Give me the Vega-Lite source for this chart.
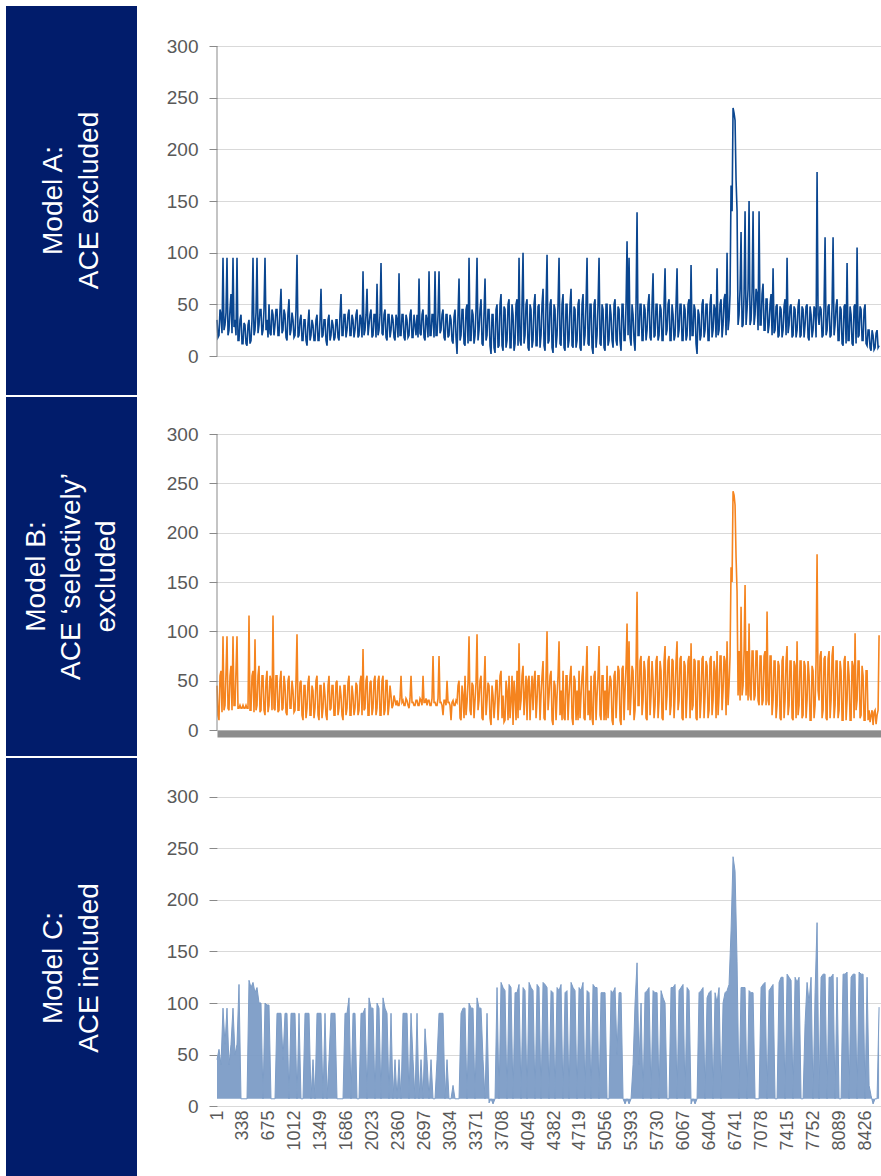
{
  "$schema": "https://vega.github.io/schema/vega-lite/v6.json",
  "padding": {"left": 6, "top": 6, "right": 0, "bottom": 0},
  "background": "white",
  "config": {
    "font": "Liberation Sans",
    "view": {"stroke": null},
    "axis": {"labelFont": "Liberation Sans", "labelFontSize": 19, "labelColor": "#595959", "gridColor": "#d9d9d9", "gridWidth": 1, "domainColor": "#898989", "tickColor": "#898989"}
  },
  "datasets": {
    "s": [
{"x":1,"a":35,"b":45,"c":45},{"x":27,"a":20,"b":10,"c":55},{"x":53,"a":40,"b":60,"c":40},{"x":79,"a":95,"b":95,"c":95},{"x":105,"a":30,"b":25,"c":60},{"x":131,"a":95,"b":95,"c":95},{"x":157,"a":25,"b":20,"c":40},{"x":183,"a":60,"b":65,"c":60},{"x":209,"a":95,"b":95,"c":95},{"x":235,"a":35,"b":25,"c":50},
{"x":261,"a":95,"b":95,"c":60},{"x":287,"a":15,"b":22,"c":118},{"x":313,"a":40,"b":22,"c":7},{"x":339,"a":12,"b":25,"c":7},{"x":365,"a":30,"b":22,"c":7},{"x":391,"a":10,"b":22,"c":7},{"x":417,"a":35,"b":116,"c":122},{"x":443,"a":15,"b":20,"c":115},{"x":469,"a":95,"b":60,"c":120},{"x":495,"a":25,"b":92,"c":110},
{"x":521,"a":95,"b":25,"c":115},{"x":547,"a":30,"b":65,"c":100},{"x":573,"a":45,"b":20,"c":100},{"x":599,"a":25,"b":55,"c":7},{"x":625,"a":95,"b":15,"c":100},{"x":651,"a":35,"b":60,"c":98},{"x":677,"a":50,"b":25,"c":98},{"x":703,"a":20,"b":50,"c":7},{"x":729,"a":40,"b":116,"c":7},{"x":755,"a":30,"b":20,"c":7},
{"x":781,"a":45,"b":55,"c":90},{"x":807,"a":20,"b":20,"c":90},{"x":833,"a":65,"b":60,"c":90},{"x":859,"a":25,"b":22,"c":45},{"x":885,"a":40,"b":45,"c":90},{"x":911,"a":15,"b":15,"c":90},{"x":937,"a":55,"b":55,"c":7},{"x":963,"a":25,"b":22,"c":90},{"x":989,"a":35,"b":40,"c":90},{"x":1015,"a":20,"b":20,"c":90},
{"x":1041,"a":98,"b":97,"c":7},{"x":1067,"a":20,"b":20,"c":90},{"x":1093,"a":40,"b":50,"c":7},{"x":1119,"a":15,"b":10,"c":7},{"x":1145,"a":35,"b":45,"c":90},{"x":1171,"a":10,"b":22,"c":90},{"x":1197,"a":45,"b":55,"c":90},{"x":1223,"a":20,"b":15,"c":7},{"x":1249,"a":30,"b":40,"c":45},{"x":1275,"a":15,"b":22,"c":7},
{"x":1301,"a":40,"b":55,"c":90},{"x":1327,"a":15,"b":10,"c":90},{"x":1353,"a":65,"b":45,"c":90},{"x":1379,"a":20,"b":22,"c":7},{"x":1405,"a":35,"b":35,"c":90},{"x":1431,"a":10,"b":10,"c":7},{"x":1457,"a":40,"b":55,"c":45},{"x":1483,"a":20,"b":22,"c":90},{"x":1509,"a":30,"b":45,"c":90},{"x":1535,"a":18,"b":15,"c":90},
{"x":1561,"a":35,"b":50,"c":7},{"x":1587,"a":15,"b":22,"c":7},{"x":1613,"a":60,"b":35,"c":7},{"x":1639,"a":20,"b":10,"c":7},{"x":1665,"a":40,"b":45,"c":90},{"x":1691,"a":25,"b":22,"c":90},{"x":1717,"a":45,"b":55,"c":105},{"x":1743,"a":20,"b":15,"c":7},{"x":1769,"a":35,"b":35,"c":90},{"x":1795,"a":25,"b":22,"c":90},
{"x":1821,"a":45,"b":45,"c":7},{"x":1847,"a":20,"b":20,"c":7},{"x":1873,"a":35,"b":55,"c":90},{"x":1899,"a":82,"b":82,"c":90},{"x":1925,"a":25,"b":22,"c":95},{"x":1951,"a":65,"b":55,"c":7},{"x":1977,"a":30,"b":15,"c":105},{"x":2003,"a":45,"b":50,"c":95},{"x":2029,"a":20,"b":22,"c":95},{"x":2055,"a":40,"b":55,"c":7},
{"x":2081,"a":70,"b":22,"c":100},{"x":2107,"a":25,"b":55,"c":95},{"x":2133,"a":90,"b":15,"c":7},{"x":2159,"a":20,"b":55,"c":105},{"x":2185,"a":45,"b":20,"c":95},{"x":2211,"a":15,"b":50,"c":90},{"x":2237,"a":40,"b":25,"c":7},{"x":2263,"a":25,"b":35,"c":90},{"x":2289,"a":35,"b":25,"c":7},{"x":2315,"a":15,"b":30,"c":45},
{"x":2341,"a":35,"b":30,"c":7},{"x":2367,"a":80,"b":25,"c":45},{"x":2393,"a":20,"b":55,"c":7},{"x":2419,"a":40,"b":30,"c":90},{"x":2445,"a":15,"b":25,"c":90},{"x":2471,"a":35,"b":30,"c":90},{"x":2497,"a":20,"b":22,"c":7},{"x":2523,"a":45,"b":55,"c":90},{"x":2549,"a":18,"b":28,"c":45},{"x":2575,"a":30,"b":25,"c":7},
{"x":2601,"a":40,"b":30,"c":90},{"x":2627,"a":75,"b":25,"c":7},{"x":2653,"a":20,"b":30,"c":45},{"x":2679,"a":45,"b":55,"c":7},{"x":2705,"a":15,"b":28,"c":75},{"x":2731,"a":35,"b":25,"c":45},{"x":2757,"a":82,"b":30,"c":7},{"x":2783,"a":20,"b":25,"c":45},{"x":2809,"a":40,"b":75,"c":7},{"x":2835,"a":82,"b":28,"c":7},
{"x":2861,"a":20,"b":25,"c":45},{"x":2887,"a":82,"b":75,"c":90},{"x":2913,"a":25,"b":28,"c":90},{"x":2939,"a":45,"b":15,"c":90},{"x":2965,"a":15,"b":30,"c":7},{"x":2991,"a":40,"b":50,"c":45},{"x":3017,"a":20,"b":28,"c":7},{"x":3043,"a":35,"b":10,"c":7},{"x":3069,"a":12,"b":30,"c":20},{"x":3095,"a":45,"b":25,"c":7},
{"x":3121,"a":2,"b":28,"c":7},{"x":3147,"a":75,"b":50,"c":7},{"x":3173,"a":20,"b":10,"c":90},{"x":3199,"a":45,"b":35,"c":95},{"x":3225,"a":10,"b":55,"c":95},{"x":3251,"a":50,"b":28,"c":7},{"x":3277,"a":95,"b":95,"c":100},{"x":3303,"a":15,"b":15,"c":95},{"x":3329,"a":40,"b":45,"c":95},{"x":3355,"a":20,"b":30,"c":7},
{"x":3381,"a":95,"b":97,"c":105},{"x":3407,"a":25,"b":30,"c":95},{"x":3433,"a":55,"b":55,"c":95},{"x":3459,"a":10,"b":10,"c":45},{"x":3485,"a":75,"b":75,"c":7},{"x":3511,"a":20,"b":30,"c":90},{"x":3537,"a":45,"b":45,"c":3},{"x":3563,"a":2,"b":5,"c":7},{"x":3589,"a":40,"b":35,"c":2},{"x":3615,"a":3,"b":28,"c":7},
{"x":3641,"a":50,"b":50,"c":115},{"x":3667,"a":10,"b":30,"c":7},{"x":3693,"a":60,"b":60,"c":120},{"x":3719,"a":5,"b":35,"c":115},{"x":3745,"a":45,"b":10,"c":112},{"x":3771,"a":15,"b":40,"c":7},{"x":3797,"a":55,"b":55,"c":118},{"x":3823,"a":8,"b":30,"c":115},{"x":3849,"a":40,"b":5,"c":7},{"x":3875,"a":12,"b":35,"c":110},
{"x":3901,"a":55,"b":60,"c":110},{"x":3927,"a":95,"b":88,"c":118},{"x":3953,"a":10,"b":30,"c":7},{"x":3979,"a":100,"b":65,"c":115},{"x":4005,"a":20,"b":35,"c":112},{"x":4031,"a":55,"b":10,"c":7},{"x":4057,"a":5,"b":55,"c":120},{"x":4083,"a":45,"b":35,"c":115},{"x":4109,"a":15,"b":20,"c":112},{"x":4135,"a":60,"b":60,"c":7},
{"x":4161,"a":10,"b":30,"c":118},{"x":4187,"a":50,"b":55,"c":115},{"x":4213,"a":20,"b":35,"c":7},{"x":4239,"a":65,"b":70,"c":120},{"x":4265,"a":5,"b":10,"c":118},{"x":4291,"a":98,"b":100,"c":115},{"x":4317,"a":15,"b":35,"c":7},{"x":4343,"a":55,"b":60,"c":112},{"x":4369,"a":3,"b":5,"c":110},{"x":4395,"a":45,"b":45,"c":7},
{"x":4421,"a":20,"b":35,"c":115},{"x":4447,"a":95,"b":90,"c":112},{"x":4473,"a":10,"b":40,"c":118},{"x":4499,"a":60,"b":60,"c":7},{"x":4525,"a":5,"b":10,"c":110},{"x":4551,"a":50,"b":55,"c":112},{"x":4577,"a":15,"b":35,"c":7},{"x":4603,"a":65,"b":65,"c":120},{"x":4629,"a":8,"b":5,"c":115},{"x":4655,"a":45,"b":50,"c":112},
{"x":4681,"a":15,"b":40,"c":7},{"x":4707,"a":55,"b":60,"c":115},{"x":4733,"a":5,"b":35,"c":112},{"x":4759,"a":60,"b":65,"c":120},{"x":4785,"a":20,"b":10,"c":7},{"x":4811,"a":95,"b":85,"c":112},{"x":4837,"a":10,"b":40,"c":110},{"x":4863,"a":50,"b":55,"c":7},{"x":4889,"a":2,"b":5,"c":118},{"x":4915,"a":55,"b":60,"c":115},
{"x":4941,"a":20,"b":35,"c":115},{"x":4967,"a":95,"b":85,"c":7},{"x":4993,"a":10,"b":10,"c":110},{"x":5019,"a":45,"b":55,"c":110},{"x":5045,"a":5,"b":40,"c":110},{"x":5071,"a":50,"b":65,"c":7},{"x":5097,"a":15,"b":35,"c":7},{"x":5123,"a":40,"b":50,"c":112},{"x":5149,"a":8,"b":5,"c":110},{"x":5175,"a":55,"b":60,"c":115},
{"x":5201,"a":10,"b":35,"c":50},{"x":5227,"a":45,"b":60,"c":110},{"x":5253,"a":5,"b":5,"c":110},{"x":5279,"a":50,"b":65,"c":7},{"x":5305,"a":15,"b":40,"c":2},{"x":5331,"a":111,"b":108,"c":7},{"x":5357,"a":95,"b":90,"c":2},{"x":5383,"a":10,"b":35,"c":7},{"x":5409,"a":40,"b":60,"c":40},{"x":5435,"a":5,"b":20,"c":100},
{"x":5461,"a":139,"b":140,"c":139},{"x":5487,"a":20,"b":25,"c":40},{"x":5513,"a":50,"b":75,"c":100},{"x":5539,"a":15,"b":30,"c":7},{"x":5565,"a":45,"b":60,"c":110},{"x":5591,"a":25,"b":10,"c":112},{"x":5617,"a":60,"b":75,"c":115},{"x":5643,"a":15,"b":35,"c":7},{"x":5669,"a":80,"b":50,"c":112},{"x":5695,"a":20,"b":25,"c":110},
{"x":5721,"a":50,"b":75,"c":110},{"x":5747,"a":20,"b":30,"c":7},{"x":5773,"a":45,"b":60,"c":112},{"x":5799,"a":15,"b":10,"c":105},{"x":5825,"a":85,"b":85,"c":100},{"x":5851,"a":25,"b":35,"c":7},{"x":5877,"a":55,"b":75,"c":7},{"x":5903,"a":15,"b":25,"c":115},{"x":5929,"a":40,"b":70,"c":115},{"x":5955,"a":20,"b":35,"c":118},
{"x":5981,"a":85,"b":90,"c":7},{"x":6007,"a":25,"b":30,"c":112},{"x":6033,"a":50,"b":75,"c":115},{"x":6059,"a":15,"b":10,"c":118},{"x":6085,"a":45,"b":65,"c":7},{"x":6111,"a":20,"b":35,"c":115},{"x":6137,"a":55,"b":75,"c":112},{"x":6163,"a":88,"b":88,"c":2},{"x":6189,"a":20,"b":25,"c":7},{"x":6215,"a":45,"b":70,"c":2},
{"x":6241,"a":2,"b":10,"c":7},{"x":6267,"a":40,"b":70,"c":110},{"x":6293,"a":20,"b":30,"c":112},{"x":6319,"a":55,"b":75,"c":115},{"x":6345,"a":25,"b":35,"c":7},{"x":6371,"a":50,"b":65,"c":105},{"x":6397,"a":15,"b":20,"c":110},{"x":6423,"a":60,"b":75,"c":112},{"x":6449,"a":25,"b":30,"c":7},{"x":6475,"a":45,"b":60,"c":110},
{"x":6501,"a":85,"b":80,"c":100},{"x":6527,"a":25,"b":35,"c":115},{"x":6553,"a":55,"b":75,"c":7},{"x":6579,"a":30,"b":40,"c":100},{"x":6605,"a":60,"b":70,"c":110},{"x":6631,"a":100,"b":90,"c":112},{"x":6657,"a":35,"b":45,"c":118},{"x":6683,"a":165,"b":165,"c":170},{"x":6709,"a":240,"b":242,"c":242},{"x":6735,"a":228,"b":228,"c":228},
{"x":6761,"a":140,"b":140,"c":140},{"x":6787,"a":40,"b":80,"c":7},{"x":6813,"a":120,"b":125,"c":115},{"x":6839,"a":30,"b":45,"c":115},{"x":6865,"a":140,"b":147,"c":115},{"x":6891,"a":45,"b":80,"c":7},{"x":6917,"a":150,"b":108,"c":112},{"x":6943,"a":35,"b":30,"c":110},{"x":6969,"a":140,"b":80,"c":110},{"x":6995,"a":40,"b":35,"c":7},
{"x":7021,"a":60,"b":80,"c":7},{"x":7047,"a":140,"b":25,"c":7},{"x":7073,"a":30,"b":75,"c":115},{"x":7099,"a":70,"b":30,"c":118},{"x":7125,"a":25,"b":80,"c":120},{"x":7151,"a":55,"b":120,"c":7},{"x":7177,"a":30,"b":25,"c":112},{"x":7203,"a":60,"b":75,"c":115},{"x":7229,"a":85,"b":30,"c":118},{"x":7255,"a":25,"b":70,"c":7},
{"x":7281,"a":50,"b":25,"c":7},{"x":7307,"a":20,"b":65,"c":120},{"x":7333,"a":45,"b":10,"c":125},{"x":7359,"a":25,"b":75,"c":125},{"x":7385,"a":55,"b":30,"c":7},{"x":7411,"a":95,"b":85,"c":128},{"x":7437,"a":30,"b":25,"c":125},{"x":7463,"a":50,"b":70,"c":122},{"x":7489,"a":20,"b":10,"c":7},{"x":7515,"a":45,"b":65,"c":125},
{"x":7541,"a":25,"b":90,"c":120},{"x":7567,"a":55,"b":25,"c":125},{"x":7593,"a":20,"b":70,"c":7},{"x":7619,"a":45,"b":15,"c":7},{"x":7645,"a":30,"b":65,"c":80},{"x":7671,"a":50,"b":30,"c":120},{"x":7697,"a":15,"b":55,"c":100},{"x":7723,"a":40,"b":10,"c":125},{"x":7749,"a":25,"b":60,"c":7},{"x":7775,"a":45,"b":25,"c":110},
{"x":7801,"a":178,"b":178,"c":178},{"x":7827,"a":30,"b":30,"c":7},{"x":7853,"a":45,"b":80,"c":125},{"x":7879,"a":20,"b":20,"c":128},{"x":7905,"a":115,"b":75,"c":128},{"x":7931,"a":25,"b":10,"c":7},{"x":7957,"a":50,"b":80,"c":125},{"x":7983,"a":20,"b":30,"c":125},{"x":8009,"a":115,"b":85,"c":128},{"x":8035,"a":30,"b":25,"c":7},
{"x":8061,"a":55,"b":70,"c":125},{"x":8087,"a":15,"b":20,"c":7},{"x":8113,"a":45,"b":60,"c":7},{"x":8139,"a":10,"b":10,"c":128},{"x":8165,"a":50,"b":75,"c":128},{"x":8191,"a":90,"b":30,"c":130},{"x":8217,"a":15,"b":55,"c":7},{"x":8243,"a":40,"b":10,"c":125},{"x":8269,"a":10,"b":65,"c":128},{"x":8295,"a":50,"b":98,"c":128},
{"x":8321,"a":105,"b":30,"c":7},{"x":8347,"a":20,"b":70,"c":130},{"x":8373,"a":45,"b":15,"c":128},{"x":8399,"a":15,"b":55,"c":128},{"x":8425,"a":50,"b":10,"c":7},{"x":8451,"a":10,"b":60,"c":125},{"x":8477,"a":25,"b":20,"c":20},{"x":8503,"a":5,"b":15,"c":10},{"x":8529,"a":20,"b":5,"c":2},{"x":8555,"a":8,"b":20,"c":7},
{"x":8581,"a":25,"b":15,"c":7},{"x":8607,"a":10,"b":96,"c":96},
{"x":14,"a":18,"b":15},{"x":40,"a":45,"b":55},{"x":66,"a":22,"b":18},{"x":92,"a":25,"b":20},{"x":118,"a":42,"b":58},{"x":144,"a":20,"b":22},{"x":170,"a":45,"b":55},{"x":196,"a":22,"b":20},{"x":222,"a":28,"b":25},{"x":248,"a":20,"b":60},
{"x":274,"a":15,"b":22},{"x":300,"a":35,"b":25},{"x":326,"a":12,"b":22},{"x":352,"a":32,"b":22},{"x":378,"a":12,"b":25},{"x":404,"a":30,"b":22},{"x":430,"a":12,"b":20},{"x":456,"a":35,"b":55},{"x":482,"a":20,"b":18},{"x":508,"a":42,"b":20},
{"x":534,"a":22,"b":55},{"x":560,"a":45,"b":18},{"x":586,"a":20,"b":55},{"x":612,"a":45,"b":20},{"x":638,"a":25,"b":50},{"x":664,"a":18,"b":18},{"x":690,"a":22,"b":55},{"x":716,"a":45,"b":20},{"x":742,"a":20,"b":22},{"x":768,"a":45,"b":55},
{"x":794,"a":20,"b":18},{"x":820,"a":45,"b":50},{"x":846,"a":22,"b":20},{"x":872,"a":45,"b":55},{"x":898,"a":18,"b":18},{"x":924,"a":42,"b":50},{"x":950,"a":20,"b":22},{"x":976,"a":42,"b":50},{"x":1002,"a":18,"b":18},{"x":1028,"a":45,"b":50},
{"x":1054,"a":18,"b":20},{"x":1080,"a":35,"b":48},{"x":1106,"a":15,"b":15},{"x":1132,"a":35,"b":45},{"x":1158,"a":15,"b":12},{"x":1184,"a":32,"b":48},{"x":1210,"a":15,"b":15},{"x":1236,"a":35,"b":45},{"x":1262,"a":15,"b":12},{"x":1288,"a":35,"b":50},
{"x":1314,"a":15,"b":15},{"x":1340,"a":35,"b":45},{"x":1366,"a":18,"b":12},{"x":1392,"a":35,"b":48},{"x":1418,"a":15,"b":15},{"x":1444,"a":35,"b":45},{"x":1470,"a":15,"b":20},{"x":1496,"a":35,"b":45},{"x":1522,"a":15,"b":15},{"x":1548,"a":35,"b":48},
{"x":1574,"a":18,"b":15},{"x":1600,"a":40,"b":45},{"x":1626,"a":20,"b":15},{"x":1652,"a":40,"b":45},{"x":1678,"a":18,"b":15},{"x":1704,"a":40,"b":48},{"x":1730,"a":20,"b":15},{"x":1756,"a":40,"b":45},{"x":1782,"a":18,"b":15},{"x":1808,"a":40,"b":48},
{"x":1834,"a":18,"b":15},{"x":1860,"a":40,"b":48},{"x":1886,"a":18,"b":15},{"x":1912,"a":20,"b":20},{"x":1938,"a":40,"b":50},{"x":1964,"a":20,"b":15},{"x":1990,"a":40,"b":48},{"x":2016,"a":18,"b":15},{"x":2042,"a":40,"b":50},{"x":2068,"a":18,"b":15},
{"x":2094,"a":20,"b":50},{"x":2120,"a":40,"b":15},{"x":2146,"a":22,"b":50},{"x":2172,"a":40,"b":15},{"x":2198,"a":18,"b":50},{"x":2224,"a":40,"b":15},{"x":2250,"a":18,"b":45},{"x":2276,"a":40,"b":22},{"x":2302,"a":18,"b":35},{"x":2328,"a":40,"b":25},
{"x":2354,"a":18,"b":25},{"x":2380,"a":20,"b":32},{"x":2406,"a":40,"b":28},{"x":2432,"a":18,"b":25},{"x":2458,"a":40,"b":32},{"x":2484,"a":18,"b":25},{"x":2510,"a":40,"b":32},{"x":2536,"a":18,"b":28},{"x":2562,"a":40,"b":25},{"x":2588,"a":20,"b":30},
{"x":2614,"a":18,"b":25},{"x":2640,"a":22,"b":32},{"x":2666,"a":40,"b":25},{"x":2692,"a":18,"b":28},{"x":2718,"a":40,"b":32},{"x":2744,"a":18,"b":30},{"x":2770,"a":20,"b":25},{"x":2796,"a":40,"b":32},{"x":2822,"a":18,"b":28},{"x":2848,"a":20,"b":25},
{"x":2874,"a":40,"b":32},{"x":2900,"a":22,"b":28},{"x":2926,"a":40,"b":25},{"x":2952,"a":18,"b":30},{"x":2978,"a":40,"b":25},{"x":3004,"a":18,"b":28},{"x":3030,"a":40,"b":25},{"x":3056,"a":15,"b":28},{"x":3082,"a":38,"b":25},{"x":3108,"a":18,"b":30},
{"x":3134,"a":40,"b":45},{"x":3160,"a":15,"b":12},{"x":3186,"a":45,"b":45},{"x":3212,"a":12,"b":12},{"x":3238,"a":45,"b":15},{"x":3264,"a":12,"b":48},{"x":3290,"a":15,"b":20},{"x":3316,"a":45,"b":48},{"x":3342,"a":12,"b":12},{"x":3368,"a":45,"b":48},
{"x":3394,"a":15,"b":20},{"x":3420,"a":45,"b":50},{"x":3446,"a":12,"b":12},{"x":3472,"a":42,"b":45},{"x":3498,"a":15,"b":15},{"x":3524,"a":45,"b":48},{"x":3550,"a":10,"b":12},{"x":3576,"a":40,"b":45},{"x":3602,"a":8,"b":12},{"x":3628,"a":45,"b":50},
{"x":3654,"a":8,"b":10},{"x":3680,"a":50,"b":55},{"x":3706,"a":10,"b":12},{"x":3732,"a":48,"b":8},{"x":3758,"a":8,"b":50},{"x":3784,"a":50,"b":10},{"x":3810,"a":8,"b":12},{"x":3836,"a":50,"b":55},{"x":3862,"a":5,"b":50},{"x":3888,"a":50,"b":10},
{"x":3914,"a":10,"b":12},{"x":3940,"a":15,"b":20},{"x":3966,"a":50,"b":55},{"x":3992,"a":12,"b":15},{"x":4018,"a":50,"b":55},{"x":4044,"a":8,"b":50},{"x":4070,"a":50,"b":10},{"x":4096,"a":8,"b":55},{"x":4122,"a":50,"b":50},{"x":4148,"a":10,"b":12},
{"x":4174,"a":48,"b":55},{"x":4200,"a":8,"b":10},{"x":4226,"a":50,"b":55},{"x":4252,"a":10,"b":12},{"x":4278,"a":50,"b":55},{"x":4304,"a":12,"b":20},{"x":4330,"a":50,"b":55},{"x":4356,"a":8,"b":10},{"x":4382,"a":50,"b":50},{"x":4408,"a":8,"b":10},
{"x":4434,"a":50,"b":55},{"x":4460,"a":12,"b":15},{"x":4486,"a":50,"b":10},{"x":4512,"a":8,"b":12},{"x":4538,"a":50,"b":55},{"x":4564,"a":8,"b":10},{"x":4590,"a":50,"b":55},{"x":4616,"a":10,"b":12},{"x":4642,"a":48,"b":55},{"x":4668,"a":8,"b":10},
{"x":4694,"a":50,"b":10},{"x":4720,"a":8,"b":12},{"x":4746,"a":50,"b":55},{"x":4772,"a":10,"b":12},{"x":4798,"a":50,"b":55},{"x":4824,"a":12,"b":15},{"x":4850,"a":50,"b":10},{"x":4876,"a":8,"b":12},{"x":4902,"a":50,"b":55},{"x":4928,"a":8,"b":10},
{"x":4954,"a":50,"b":55},{"x":4980,"a":12,"b":15},{"x":5006,"a":50,"b":55},{"x":5032,"a":8,"b":10},{"x":5058,"a":50,"b":10},{"x":5084,"a":10,"b":12},{"x":5110,"a":50,"b":55},{"x":5136,"a":15,"b":10},{"x":5162,"a":50,"b":55},{"x":5188,"a":15,"b":12},
{"x":5214,"a":48,"b":65},{"x":5240,"a":15,"b":10},{"x":5266,"a":50,"b":62},{"x":5292,"a":15,"b":10},{"x":5318,"a":50,"b":65},{"x":5344,"a":20,"b":20},{"x":5370,"a":18,"b":15},{"x":5396,"a":50,"b":65},{"x":5422,"a":15,"b":10},{"x":5448,"a":50,"b":65},
{"x":5474,"a":20,"b":25},{"x":5500,"a":50,"b":70},{"x":5526,"a":15,"b":15},{"x":5552,"a":50,"b":70},{"x":5578,"a":15,"b":12},{"x":5604,"a":50,"b":70},{"x":5630,"a":18,"b":15},{"x":5656,"a":50,"b":70},{"x":5682,"a":18,"b":12},{"x":5708,"a":50,"b":70},
{"x":5734,"a":15,"b":12},{"x":5760,"a":50,"b":70},{"x":5786,"a":15,"b":12},{"x":5812,"a":50,"b":70},{"x":5838,"a":20,"b":20},{"x":5864,"a":50,"b":70},{"x":5890,"a":15,"b":15},{"x":5916,"a":50,"b":72},{"x":5942,"a":15,"b":12},{"x":5968,"a":50,"b":70},
{"x":5994,"a":18,"b":20},{"x":6020,"a":50,"b":72},{"x":6046,"a":15,"b":12},{"x":6072,"a":50,"b":70},{"x":6098,"a":15,"b":12},{"x":6124,"a":50,"b":70},{"x":6150,"a":15,"b":12},{"x":6176,"a":20,"b":20},{"x":6202,"a":50,"b":72},{"x":6228,"a":12,"b":12},
{"x":6254,"a":45,"b":70},{"x":6280,"a":15,"b":12},{"x":6306,"a":50,"b":72},{"x":6332,"a":18,"b":12},{"x":6358,"a":50,"b":70},{"x":6384,"a":15,"b":12},{"x":6410,"a":50,"b":72},{"x":6436,"a":18,"b":15},{"x":6462,"a":50,"b":70},{"x":6488,"a":18,"b":12},
{"x":6514,"a":20,"b":15},{"x":6540,"a":50,"b":75},{"x":6566,"a":18,"b":20},{"x":6592,"a":55,"b":75},{"x":6618,"a":20,"b":15},{"x":6644,"a":25,"b":25},{"x":6670,"a":60,"b":75},{"x":6696,"a":140,"b":150},{"x":6722,"a":235,"b":238},{"x":6748,"a":170,"b":175},
{"x":6774,"a":30,"b":35},{"x":6800,"a":65,"b":30},{"x":6826,"a":28,"b":35},{"x":6852,"a":60,"b":80},{"x":6878,"a":30,"b":35},{"x":6904,"a":65,"b":30},{"x":6930,"a":30,"b":35},{"x":6956,"a":62,"b":80},{"x":6982,"a":30,"b":30},{"x":7008,"a":65,"b":80},
{"x":7034,"a":25,"b":30},{"x":7060,"a":30,"b":75},{"x":7086,"a":60,"b":25},{"x":7112,"a":25,"b":75},{"x":7138,"a":55,"b":25},{"x":7164,"a":22,"b":30},{"x":7190,"a":50,"b":75},{"x":7216,"a":20,"b":15},{"x":7242,"a":22,"b":70},{"x":7268,"a":48,"b":12},
{"x":7294,"a":18,"b":70},{"x":7320,"a":48,"b":12},{"x":7346,"a":18,"b":70},{"x":7372,"a":48,"b":12},{"x":7398,"a":20,"b":70},{"x":7424,"a":22,"b":15},{"x":7450,"a":48,"b":70},{"x":7476,"a":18,"b":12},{"x":7502,"a":48,"b":70},{"x":7528,"a":18,"b":12},
{"x":7554,"a":48,"b":15},{"x":7580,"a":18,"b":70},{"x":7606,"a":48,"b":12},{"x":7632,"a":18,"b":70},{"x":7658,"a":48,"b":12},{"x":7684,"a":18,"b":70},{"x":7710,"a":48,"b":10},{"x":7736,"a":18,"b":65},{"x":7762,"a":48,"b":12},{"x":7788,"a":18,"b":70},
{"x":7814,"a":40,"b":40},{"x":7840,"a":48,"b":75},{"x":7866,"a":18,"b":12},{"x":7892,"a":48,"b":72},{"x":7918,"a":20,"b":12},{"x":7944,"a":48,"b":72},{"x":7970,"a":18,"b":12},{"x":7996,"a":48,"b":75},{"x":8022,"a":20,"b":12},{"x":8048,"a":48,"b":70},
{"x":8074,"a":15,"b":12},{"x":8100,"a":48,"b":70},{"x":8126,"a":12,"b":10},{"x":8152,"a":48,"b":70},{"x":8178,"a":12,"b":10},{"x":8204,"a":15,"b":70},{"x":8230,"a":48,"b":10},{"x":8256,"a":12,"b":70},{"x":8282,"a":48,"b":12},{"x":8308,"a":12,"b":20},
{"x":8334,"a":18,"b":70},{"x":8360,"a":48,"b":12},{"x":8386,"a":15,"b":65},{"x":8412,"a":45,"b":10},{"x":8438,"a":12,"b":60},{"x":8464,"a":25,"b":10},{"x":8490,"a":8,"b":8},{"x":8516,"a":25,"b":20},{"x":8542,"a":6,"b":18},{"x":8568,"a":22,"b":6},
{"x":8594,"a":8,"b":20}
    ]
  },
  "columns": 2,
  "align": "each",
  "bounds": "flush",
  "center": false,
  "spacing": {"row": 2, "column": 80},
  "concat": [
    {
      "width": 131, "height": 389,
      "view": {"fill": "#011C6B", "stroke": null},
      "data": {"values": [{"k": 1}]},
      "mark": {"type": "text", "text": ["Model A:", "ACE excluded"], "angle": 270, "dy": -18, "fontSize": 28, "color": "white", "lineHeight": 36, "align": "center", "baseline": "middle", "font": "Liberation Sans"},
      "encoding": {}
    },
    {
      "width": 664, "height": 389,
      "layer": [
        {
          "data": {"name": "s"},
          "mark": {"type": "line", "color": "#0A4690", "strokeWidth": 1.6},
          "encoding": {
            "x": {"field": "x", "type": "quantitative", "scale": {"domain": [1, 8632], "nice": false, "zero": false}, "axis": null},
            "y": {"field": "a", "type": "quantitative", "scale": {"domain": [-37.74, 338.71], "nice": false, "zero": false}, "axis": {"values": [0, 50, 100, 150, 200, 250, 300], "grid": true, "domain": false, "tickSize": 8, "labelPadding": 11, "title": null}}
          }
        },
        {
          "data": {"values": [{"k": 1}]},
          "mark": {"type": "rule", "color": "#898989", "strokeWidth": 1},
          "encoding": {"x": {"datum": 1, "type": "quantitative"}, "y": {"datum": 0, "type": "quantitative"}, "y2": {"datum": 300}}
        }
      ]
    },
    {
      "width": 131, "height": 359,
      "view": {"fill": "#011C6B", "stroke": null},
      "data": {"values": [{"k": 1}]},
      "mark": {"type": "text", "text": ["Model B:", "ACE \u2018selectively\u2019", "excluded"], "angle": 270, "dy": -35, "fontSize": 28, "color": "white", "lineHeight": 35, "align": "center", "baseline": "middle", "font": "Liberation Sans"},
      "encoding": {}
    },
    {
      "width": 664, "height": 359,
      "layer": [
        {
          "data": {"name": "s"},
          "mark": {"type": "line", "color": "#F5841F", "strokeWidth": 1.6},
          "encoding": {
            "x": {"field": "x", "type": "quantitative", "scale": {"domain": [1, 8632], "nice": false, "zero": false}, "axis": {"domain": true, "domainColor": "#8c8c8c", "domainWidth": 7, "offset": -22.5, "labels": false, "ticks": false, "grid": false, "title": null}},
            "y": {"field": "b", "type": "quantitative", "scale": {"domain": [-26.35, 337.5], "nice": false, "zero": false}, "axis": {"values": [0, 50, 100, 150, 200, 250, 300], "grid": true, "domain": false, "tickSize": 8, "labelPadding": 11, "title": null}}
          }
        },
        {
          "data": {"values": [{"k": 1}]},
          "mark": {"type": "rule", "color": "#898989", "strokeWidth": 1},
          "encoding": {"x": {"datum": 1, "type": "quantitative"}, "y": {"datum": 0, "type": "quantitative"}, "y2": {"datum": 300}}
        }
      ]
    },
    {
      "width": 131, "height": 420,
      "view": {"fill": "#011C6B", "stroke": null},
      "data": {"values": [{"k": 1}]},
      "mark": {"type": "text", "text": ["Model C:", "ACE included"], "angle": 270, "dy": -18, "fontSize": 28, "color": "white", "lineHeight": 36, "align": "center", "baseline": "middle", "font": "Liberation Sans"},
      "encoding": {}
    },
    {
      "width": 664, "height": 420,
      "encoding": {
        "x": {"field": "x", "type": "quantitative", "scale": {"domain": [1, 8632], "nice": false, "zero": false}, "axis": {"values": [1, 338, 675, 1012, 1349, 1686, 2023, 2360, 2697, 3034, 3371, 3708, 4045, 4382, 4719, 5056, 5393, 5730, 6067, 6404, 6741, 7078, 7415, 7752, 8089, 8426], "format": "d", "labelAngle": -90, "labelFontSize": 18, "labelFlush": false, "labelBound": false, "labelOverlap": false, "ticks": false, "labelPadding": 4, "offset": -72, "domain": true, "domainColor": "#d9d9d9", "grid": false, "title": null}}
      },
      "layer": [
        {
          "data": {"name": "s"},
          "transform": [{"filter": {"field": "c", "valid": true}}],
          "mark": {"type": "area", "color": "#7C9CC6", "opacity": 0.95},
          "encoding": {
            "y": {"field": "c", "type": "quantitative", "scale": {"domain": [-69.9, 337.86], "nice": false, "zero": false}, "axis": {"values": [0, 50, 100, 150, 200, 250, 300], "grid": true, "domain": false, "tickSize": 8, "labelPadding": 11, "title": null}},
            "y2": {"datum": 7}
          }
        },
        {
          "data": {"name": "s"},
          "transform": [{"filter": {"field": "c", "valid": true}}],
          "mark": {"type": "line", "color": "#7C9CC6", "strokeWidth": 1},
          "encoding": {
            "y": {"field": "c", "type": "quantitative"}
          }
        },
        {
          "data": {"values": [{"k": 1}]},
          "mark": {"type": "rule", "color": "#898989", "strokeWidth": 1},
          "encoding": {
            "x": {"datum": 1, "type": "quantitative", "axis": {"values": [1, 338, 675, 1012, 1349, 1686, 2023, 2360, 2697, 3034, 3371, 3708, 4045, 4382, 4719, 5056, 5393, 5730, 6067, 6404, 6741, 7078, 7415, 7752, 8089, 8426], "format": "d", "labelAngle": -90, "labelFontSize": 18, "labelFlush": false, "labelBound": false, "labelOverlap": false, "ticks": false, "labelPadding": 4, "offset": -72, "domain": true, "domainColor": "#d9d9d9", "grid": false, "title": null}},
            "y": {"datum": 0, "type": "quantitative"},
            "y2": {"datum": 300}
          }
        }
      ]
    }
  ]
}
